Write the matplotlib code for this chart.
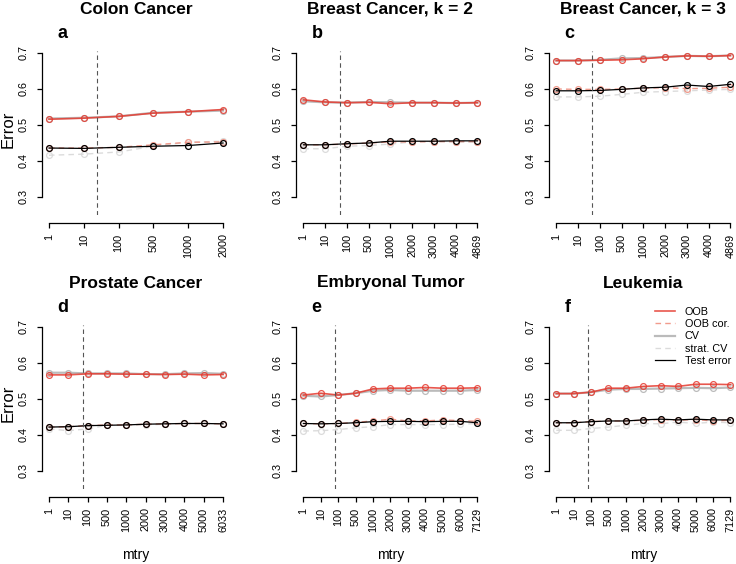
import matplotlib
matplotlib.use("Agg")
import matplotlib.pyplot as plt
from matplotlib.lines import Line2D
import numpy as np

plt.rcParams['font.family'] = ['Liberation Sans', 'DejaVu Sans']

# panel titles, letters and mtry grids
titles = ["Colon Cancer", "Breast Cancer, k = 2", "Breast Cancer, k = 3",
          "Prostate Cancer", "Embryonal Tumor", "Leukemia"]
letters = ["a", "b", "c", "d", "e", "f"]
mtry_a = [1, 10, 100, 500, 1000, 2000]
mtry_bc = [1, 10, 100, 500, 1000, 2000, 3000, 4000, 4869]
mtry_d = [1, 10, 100, 500, 1000, 2000, 3000, 4000, 5000, 6033]
mtry_ef = [1, 10, 100, 500, 1000, 2000, 3000, 4000, 5000, 6000, 7129]
mtry_lst = [mtry_a, mtry_bc, mtry_bc, mtry_d, mtry_ef, mtry_ef]
# default mtry = sqrt(number of genes)
default_mtry = [44.7, 69.8, 69.8, 77.7, 84.4, 84.4]

# error estimates per panel
oob_lst = [
    [0.515, 0.518, 0.523, 0.532, 0.536, 0.542],
    [0.569, 0.563, 0.561, 0.562, 0.558, 0.561, 0.561, 0.560, 0.561],
    [0.678, 0.678, 0.679, 0.680, 0.683, 0.688, 0.691, 0.690, 0.692],
    [0.566, 0.566, 0.569, 0.569, 0.568, 0.568, 0.567, 0.568, 0.566, 0.567],
    [0.510, 0.515, 0.510, 0.515, 0.527, 0.529, 0.529, 0.531, 0.529, 0.529, 0.530],
    [0.514, 0.514, 0.518, 0.529, 0.529, 0.534, 0.536, 0.534, 0.540, 0.540, 0.539],
]
oob_cor_lst = [
    [0.435, 0.435, 0.437, 0.444, 0.451, 0.452],
    [0.444, 0.444, 0.446, 0.449, 0.452, 0.452, 0.453, 0.453, 0.453],
    [0.599, 0.598, 0.598, 0.599, 0.601, 0.603, 0.600, 0.601, 0.604],
    [0.421, 0.422, 0.425, 0.427, 0.427, 0.429, 0.430, 0.431, 0.431, 0.430],
    [0.431, 0.430, 0.431, 0.434, 0.438, 0.443, 0.438, 0.438, 0.441, 0.439, 0.437],
    [0.433, 0.433, 0.436, 0.438, 0.438, 0.440, 0.442, 0.440, 0.442, 0.438, 0.440],
]
cv_lst = [
    [0.517, 0.519, 0.523, 0.533, 0.536, 0.539],
    [0.565, 0.562, 0.561, 0.563, 0.562, 0.561, 0.561, 0.560, 0.561],
    [0.678, 0.678, 0.680, 0.684, 0.685, 0.688, 0.691, 0.690, 0.692],
    [0.572, 0.572, 0.570, 0.570, 0.570, 0.568, 0.568, 0.570, 0.571, 0.569],
    [0.508, 0.506, 0.510, 0.515, 0.522, 0.524, 0.522, 0.522, 0.522, 0.522, 0.524],
    [0.514, 0.514, 0.518, 0.525, 0.527, 0.527, 0.528, 0.529, 0.530, 0.529, 0.531],
]
strat_cv_lst = [
    [0.415, 0.418, 0.424, 0.440, 0.451, 0.454],
    [0.433, 0.433, 0.440, 0.442, 0.446, 0.452, 0.453, 0.452, 0.451],
    [0.577, 0.577, 0.579, 0.584, 0.590, 0.592, 0.594, 0.596, 0.598],
    [0.416, 0.411, 0.416, 0.426, 0.427, 0.427, 0.429, 0.431, 0.431, 0.430],
    [0.410, 0.411, 0.414, 0.419, 0.422, 0.428, 0.428, 0.428, 0.428, 0.429, 0.431],
    [0.412, 0.412, 0.417, 0.421, 0.426, 0.431, 0.430, 0.435, 0.431, 0.435, 0.433],
]
test_lst = [
    [0.435, 0.434, 0.437, 0.440, 0.442, 0.449],
    [0.444, 0.444, 0.447, 0.449, 0.454, 0.454, 0.454, 0.455, 0.455],
    [0.594, 0.594, 0.595, 0.598, 0.602, 0.604, 0.610, 0.606, 0.612],
    [0.421, 0.422, 0.425, 0.426, 0.427, 0.429, 0.430, 0.431, 0.431, 0.430],
    [0.431, 0.430, 0.431, 0.433, 0.436, 0.437, 0.437, 0.436, 0.437, 0.437, 0.433],
    [0.433, 0.433, 0.436, 0.438, 0.438, 0.441, 0.443, 0.441, 0.443, 0.441, 0.441],
]

label_lst = ["OOB", "OOB cor.", "CV", "strat. CV", "Test error"]
color_lst = ['#e53a2f', '#f09080', '#b4b4b4', '#d8d8d8', 'black']
style_lst = ['-', '--', '-', '--', '-']
width_lst = [1.2, 1.0, 1.6, 1.0, 0.9]
alpha_lst = [0.85, 0.9, 0.9, 0.9, 1.0]

TICK_SIZE = 7.8
W, H = 736, 564


def draw_figures():
    fig = plt.figure(figsize=(W / 100, H / 100), dpi=100)

    lefts = [42, 296.4, 549.3]
    tops = [51.2, 325.2]
    ax_w, ax_h = 188, 163.8

    for k in range(6):
        row, col = divmod(k, 3)
        left, top = lefts[col], tops[row]
        ax = fig.add_axes([left / W, 1 - (top + ax_h) / H, ax_w / W, ax_h / H])

        mtry = mtry_lst[k]
        n = len(mtry)
        x = np.arange(n)
        series = [oob_lst[k], oob_cor_lst[k], cv_lst[k], strat_cv_lst[k], test_lst[k]]
        for idx in [3, 2, 1, 0, 4]:
            ax.plot(x, series[idx], linestyle=style_lst[idx], color=color_lst[idx],
                    lw=width_lst[idx], alpha=alpha_lst[idx], marker='o', ms=4.2,
                    mfc='none', mec=color_lst[idx], mew=0.9,
                    dashes=(4, 3) if style_lst[idx] == '--' else (None, None))

        # default mtry marker
        vx = np.interp(default_mtry[k], mtry, x)
        ax.axvline(vx, color='#555555', lw=0.8, linestyle=(0, (4, 3)))

        ax.set_xlim(-0.04 * (n - 1), 1.04 * (n - 1))
        ax.set_ylim(0.249, 0.704)
        ax.set_yticks([0.3, 0.4, 0.5, 0.6, 0.7])
        ax.set_yticklabels(["0.3", "0.4", "0.5", "0.6", "0.7"])
        ax.set_xticks(x)
        ax.set_xticklabels([str(m) for m in mtry])

        for s in ['top', 'right']:
            ax.spines[s].set_visible(False)
        ax.spines['left'].set_bounds(0.3, 0.7)
        ax.spines['bottom'].set_bounds(0, n - 1)
        ax.spines['bottom'].set_position(('outward', 6.1))
        for s in ['left', 'bottom']:
            ax.spines[s].set_linewidth(0.9)
        ax.tick_params(axis='both', direction='out', length=3.6, width=0.9,
                       labelsize=TICK_SIZE)
        ax.tick_params(axis='y', pad=6, labelrotation=90)
        ax.tick_params(axis='x', pad=3.6, labelrotation=90)
        for lab in ax.get_yticklabels():
            lab.set_va('center')

        cx = (left + ax_w / 2) / W
        title_y = [9, 283][row]
        fig.text(cx, 1 - title_y / H, titles[k], ha='center', va='center',
                 fontsize=12.5, fontweight='bold')
        fig.text((left + 15) / W, 1 - (title_y + 24) / H, letters[k], ha='left',
                 va='center', fontsize=13, fontweight='bold')

        if col == 0:
            fig.text(8.5 / W, 1 - (129 + 274 * row) / H, "Error", rotation=90,
                     ha='center', va='center', fontsize=12)
        if row == 1:
            fig.text(cx, 1 - 555 / H, "mtry", ha='center', va='center', fontsize=10)

    handles = [Line2D([], [], color=color_lst[i], linestyle=style_lst[i],
                      lw=width_lst[i], alpha=alpha_lst[i],
                      dashes=(4, 3) if style_lst[i] == '--' else (None, None))
               for i in range(5)]
    fig.legend(handles, label_lst, loc='upper left', bbox_to_anchor=(655 / W, 1 - 307 / H),
               frameon=False, fontsize=TICK_SIZE, handlelength=1.85, handletextpad=0.9,
               labelspacing=0.2, borderpad=0, borderaxespad=0)

    fig.savefig('out.png', dpi=100)


if __name__ == '__main__':
    draw_figures()
